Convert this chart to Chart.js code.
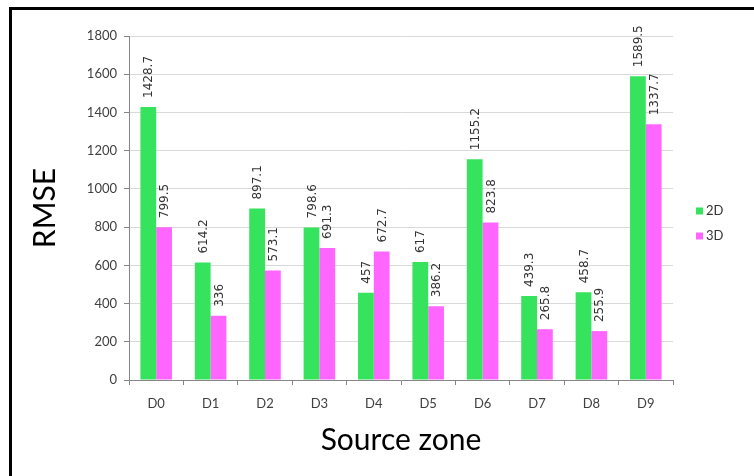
<!DOCTYPE html>
<html>
<head>
<meta charset="utf-8">
<script src="https://cdn.jsdelivr.net/npm/chart.js@4"></script>
<style>
  body { margin: 0; background: #fff; }
  #wrap { position: relative; width: 754px; height: 476px; overflow: hidden; }
  /* frame line, only top and left edges show */
  #frame { position: absolute; left: 9px; top: 7px; width: 800px; height: 520px;
           border-top: 3px solid #000; border-left: 3px solid #000; }
  #grafica { position: absolute; left: 0; top: 0; }
</style>
</head>
<body>
<div id="wrap">
  <div id="frame"></div>
  <canvas id="grafica" width="754" height="476"></canvas>
</div>
<script>
// zonas y errores RMSE por serie
const zonas = ['D0', 'D1', 'D2', 'D3', 'D4', 'D5', 'D6', 'D7', 'D8', 'D9'];
const rmse2D = [1428.7, 614.2, 897.1, 798.6, 457, 617, 1155.2, 439.3, 458.7, 1589.5];
const rmse3D = [799.5, 336, 573.1, 691.3, 672.7, 386.2, 823.8, 265.8, 255.9, 1337.7];
const series = ['2D', '3D'];

const fuente = 'Lato, "Open Sans", sans-serif';

// etiquetas verticales con el valor encima de cada barra
const etiquetasValor = {
    id: 'etiquetasValor',
    afterDatasetsDraw(chart) {
        const ctx = chart.ctx;
        ctx.save();
        ctx.font = '12px "DejaVu Sans"';
        ctx.fillStyle = '#333';
        ctx.textAlign = 'left';
        ctx.textBaseline = 'middle';
        chart.data.datasets.forEach((ds, i) => {
            chart.getDatasetMeta(i).data.forEach((barra, j) => {
                ctx.save();
                ctx.translate(barra.x + 1, barra.y - 9);
                ctx.rotate(-Math.PI / 2);
                ctx.fillText(String(ds.data[j]), 0, 0);
                ctx.restore();
            });
        });
        ctx.restore();
    }
};

// leyenda a la derecha, cuadrito + texto
const leyenda = {
    id: 'leyenda',
    afterDraw(chart) {
        const ctx = chart.ctx;
        ctx.save();
        ctx.font = '13px ' + fuente;
        ctx.textBaseline = 'middle';
        chart.data.datasets.forEach((ds, i) => {
            const y = 211 + i * 25;
            ctx.fillStyle = ds.backgroundColor;
            ctx.fillRect(696, y - 3.5, 7, 7);
            ctx.fillStyle = '#333';
            ctx.fillText(ds.label, 706, y);
        });
        ctx.restore();
    }
};

const ctx = document.getElementById('grafica').getContext('2d');

const grafica = new Chart(ctx, {
    type: 'bar',
    data: {
        labels: zonas,
        datasets: [{
            label: series[0],
            data: rmse2D,
            backgroundColor: '#36e35c'
        }, {
            label: series[1],
            data: rmse3D,
            backgroundColor: '#ff66ff'
        }]
    },
    options: {
        responsive: false,
        animation: false,
        layout: {
            padding: { left: 12, right: 81, top: 36, bottom: 0 }
        },
        datasets: {
            bar: { categoryPercentage: 0.58, barPercentage: 1.0 }
        },
        plugins: {
            legend: { display: false },
            tooltip: { enabled: false }
        },
        scales: {
            x: {
                grid: {
                    drawOnChartArea: false,
                    drawTicks: true,
                    tickLength: 5,
                    color: '#868686'
                },
                border: { color: '#868686' },
                ticks: {
                    padding: 11,
                    color: '#404040',
                    font: { family: fuente, size: 13 }
                },
                title: {
                    display: true,
                    text: 'Source zone',
                    color: '#000',
                    font: { family: fuente, size: 30 },
                    padding: { top: 0, bottom: 18 }
                },
                afterFit(scale) { scale.height = 96; }
            },
            y: {
                min: 0,
                max: 1800,
                ticks: {
                    stepSize: 200,
                    padding: 7,
                    color: '#404040',
                    font: { family: fuente, size: 13 },
                    callback: (v) => String(v)
                },
                grid: {
                    color: '#d9d9d9',
                    tickColor: '#868686',
                    tickLength: 5
                },
                border: { color: '#868686' },
                title: {
                    display: true,
                    text: 'RMSE',
                    color: '#000',
                    font: { family: fuente, size: 30 },
                    padding: { top: 15, bottom: 0 }
                },
                afterFit(scale) { scale.width = 117; }
            }
        }
    },
    plugins: [etiquetasValor, leyenda]
});
</script>
</body>
</html>
